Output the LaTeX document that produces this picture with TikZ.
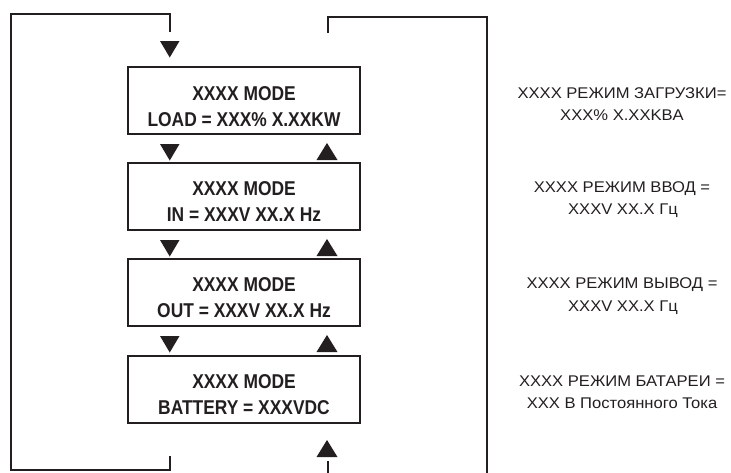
\documentclass[tikz,border=0pt]{standalone}
\usepackage{fontspec}
\setmainfont{Liberation Sans}
\definecolor{ink}{RGB}{35,31,32}
\begin{document}
\begin{tikzpicture}[x=1pt,y=-1pt,
  modebox/.style={draw=ink, line width=1.8pt, minimum width=232pt, minimum height=67pt, inner sep=0pt},
  boxline/.style={text=ink, anchor=base, inner sep=0pt, font=\bfseries\fontsize{20}{24}\selectfont},
  ruleline/.style={text=ink, anchor=base, inner sep=0pt, font=\fontsize{15.5}{20}\selectfont},
  wire/.style={draw=ink, line width=1.8pt},
  tri/.style={fill=ink}]
\useasboundingbox (0,0) rectangle (731,472);
\newcommand{\cx}[1]{\scalebox{0.87}[1]{#1}}
\newcommand{\wx}[1]{\scalebox{1.07}[1]{#1}}
% boxes
\node[modebox] (b1) at (244,100.5) {};
\node[modebox] (b2) at (244,196.5) {};
\node[modebox] (b3) at (244,292.5) {};
\node[modebox] (b4) at (244,389.5) {};
% box texts
\node[boxline] (b1a) at (244,100) {\cx{XXXX MODE}};
\node[boxline] (b1b) at (244,126) {\cx{LOAD = XXX\% X.XXKW}};
\node[boxline] (b2a) at (244,195) {\cx{XXXX MODE}};
\node[boxline] (b2b) at (244,221) {\cx{IN = XXXV XX.X Hz}};
\node[boxline] (b3a) at (244,291) {\cx{XXXX MODE}};
\node[boxline] (b3b) at (244,317) {\cx{OUT = XXXV XX.X Hz}};
\node[boxline] (b4a) at (244,388) {\cx{XXXX MODE}};
\node[boxline] (b4b) at (244,414) {\cx{BATTERY = XXXVDC}};
% right texts
\node[ruleline] (r1a) at (622,98) {\wx{XXXX РЕЖИМ ЗАГРУЗКИ=}};
\node[ruleline] (r1b) at (622,120.5) {\wx{XXX\% X.XXKBA}};
\node[ruleline] (r2a) at (622,192.5) {\wx{XXXX РЕЖИМ ВВОД =}};
\node[ruleline] (r2b) at (623,214.5) {\wx{XXXV XX.X Гц}};
\node[ruleline] (r3a) at (622,288.5) {\wx{XXXX РЕЖИМ ВЫВОД =}};
\node[ruleline] (r3b) at (623,311.5) {\wx{XXXV XX.X Гц}};
\node[ruleline] (r4a) at (622,386.5) {\wx{XXXX РЕЖИМ БАТАРЕИ =}};
\node[ruleline] (r4b) at (622,408.5) {\wx{XXX В Постоянного Тока}};
% wire coordinates
\coordinate (lb) at (170,456);
\coordinate (lt) at (170,32);
\coordinate (rb) at (328,461);
\coordinate (rt) at (328,33);
% loops
\draw[wire] (lb) -- (170,470) -- (11,470) -- (11,14) -- (170,14) -- (lt);
\draw[wire] (rt) -- (328,17) -- (487,17) -- (487,474);
\draw[wire] (rb) -- (328,474);
% down triangles (left column, x=170)
\foreach \y in {41,144,240,336}
  \fill[tri] (160,\y) -- (179.5,\y) -- (169.75,\y+16.5) -- cycle;
% up triangles (right column, x=327)
\foreach \y in {160,256,352,457}
  \fill[tri] (316.5,\y) -- (337.5,\y) -- (327,\y-17) -- cycle;
\end{tikzpicture}
\end{document}
